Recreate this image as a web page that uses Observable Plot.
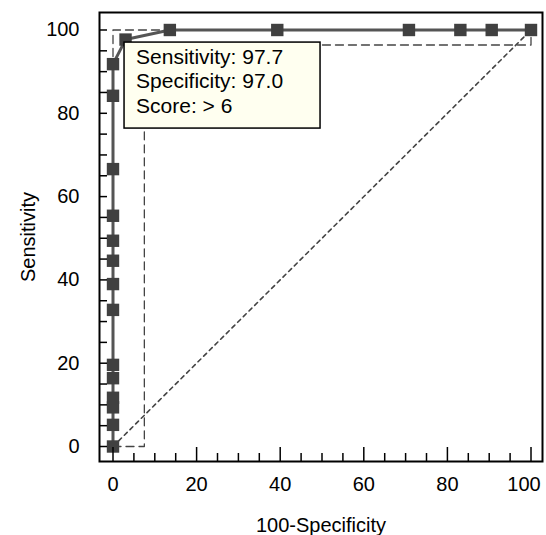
<!DOCTYPE html>
<html>
<head>
<meta charset="utf-8">
<script src="https://cdn.jsdelivr.net/npm/d3@7"></script>
<script src="https://cdn.jsdelivr.net/npm/@observablehq/plot@0.6"></script>
<style>
  html, body { margin: 0; padding: 0; background: #fff; }
  #chart { width: 546px; height: 535px; }
</style>
</head>
<body>
<div id="chart"></div>
<script>
// ROC curve points: x = 100 - Specificity, y = Sensitivity
const fpr = [0, 0, 0, 0, 0, 0, 0, 0, 0, 0, 0, 0, 0, 0, 3.0, 13.6, 39.3, 70.8, 83.1, 90.6, 100];
const tpr = [0, 5.2, 9.4, 11.7, 16.4, 19.6, 32.8, 39.0, 44.6, 49.4, 55.4, 66.6, 84.2, 91.8, 97.7, 100, 100, 100, 100, 100, 100];

// 95% confidence bounds (dashed)
const lowerX = [0, 7.5, 7.5, 100, 100];
const lowerY = [0, 0, 96.4, 96.4, 100];
const upperX = [0, 0, 100];
const upperY = [0, 100, 100];

// reference diagonal
const diagX = [0, 100];
const diagY = [0, 100];

// optimal criterion annotation
const optX = [3.0];
const optY = [97.7];
const boxLines = ["Sensitivity: 97.7", "Specificity: 97.0", "Score: > 6"];

// ticks and titles
const xMajor = [0, 20, 40, 60, 80, 100];
const xMinor = [5, 10, 15, 25, 30, 35, 45, 50, 55, 65, 70, 75, 85, 90, 95];
const yTicks = [0, 5, 10, 15, 20, 25, 30, 35, 40, 45, 50, 55, 60, 65, 70, 75, 80, 85, 90, 95, 100];
const yLabeled = [0, 20, 40, 60, 80, 100];
const xTitle = "100-Specificity";
const yTitle = "Sensitivity";

const pts = fpr.map((x, i) => ({x, y: tpr[i]}));
const lower = lowerX.map((x, i) => ({x, y: lowerY[i]}));
const upper = upperX.map((x, i) => ({x, y: upperY[i]}));
const diag = diagX.map((x, i) => ({x, y: diagY[i]}));

const FONT = "'Liberation Sans', Arial, Helvetica, sans-serif";

function annotationBox(index, scales) {
  const sx = scales.x, sy = scales.y;
  const px = sx(optX[0]), py = sy(optY[0]);
  const left = px - 1, top = py + 3, w = 196, h = 86;
  const g = d3.create("svg:g");
  g.append("rect")
    .attr("x", left).attr("y", top).attr("width", w).attr("height", h)
    .attr("fill", "#fffff0").attr("stroke", "black").attr("stroke-width", 1.5);
  boxLines.forEach((t, i) => {
    g.append("text")
      .attr("x", left + 12).attr("y", top + 22 + i * 24.3)
      .attr("text-anchor", "start")
      .attr("font-family", FONT).attr("font-size", 21).attr("fill", "black")
      .text(t);
  });
  return g.node();
}

const chart = Plot.plot({
  width: 546,
  height: 535,
  marginLeft: 99,
  marginRight: 4,
  marginTop: 12,
  marginBottom: 74,
  style: {fontFamily: FONT, fontSize: "20px", color: "black", background: "white"},
  x: {domain: [-3.23, 102.75]},
  y: {domain: [-3.6, 104.2]},
  marks: [
    Plot.line(diag, {x: "x", y: "y", stroke: "#444", strokeWidth: 1.6, strokeDasharray: "4,4"}),
    Plot.line(lower, {x: "x", y: "y", stroke: "#444", strokeWidth: 1.3, strokeDasharray: "8,5"}),
    Plot.line(upper, {x: "x", y: "y", stroke: "#444", strokeWidth: 1.3, strokeDasharray: "8,5"}),
    Plot.line(pts, {x: "x", y: "y", stroke: "#555", strokeWidth: 3}),
    Plot.dot(pts, {x: "x", y: "y", symbol: "square", r: 7, fill: "#404040", stroke: null}),
    annotationBox,
    Plot.frame({stroke: "black", strokeWidth: 2}),
    Plot.axisX(xMajor, {tickSize: -14, tickFormat: () => "", strokeWidth: 1.5, label: null}),
    Plot.axisX(xMinor, {tickSize: -8, tickFormat: () => "", strokeWidth: 1.5, label: null}),
    Plot.axisX(xMajor.slice(0, -1), {tickSize: 0, tickPadding: 15, label: null}),
    Plot.axisX(xMajor.slice(-1), {tickSize: 0, tickPadding: 15, dx: -7, label: null}),
    Plot.axisY(yTicks, {tickSize: -8, tickPadding: 28, strokeWidth: 1.5, label: null,
      tickFormat: d => yLabeled.includes(d) ? String(d) : ""}),
    Plot.text([xTitle], {text: d => d, frameAnchor: "bottom", dy: 64, lineAnchor: "middle", textAnchor: "middle", fontSize: 20}),
    Plot.text([yTitle], {text: d => d, frameAnchor: "left", dx: -71, rotate: -90, lineAnchor: "middle", textAnchor: "middle", fontSize: 20})
  ]
});
document.getElementById("chart").appendChild(chart);
</script>
</body>
</html>
